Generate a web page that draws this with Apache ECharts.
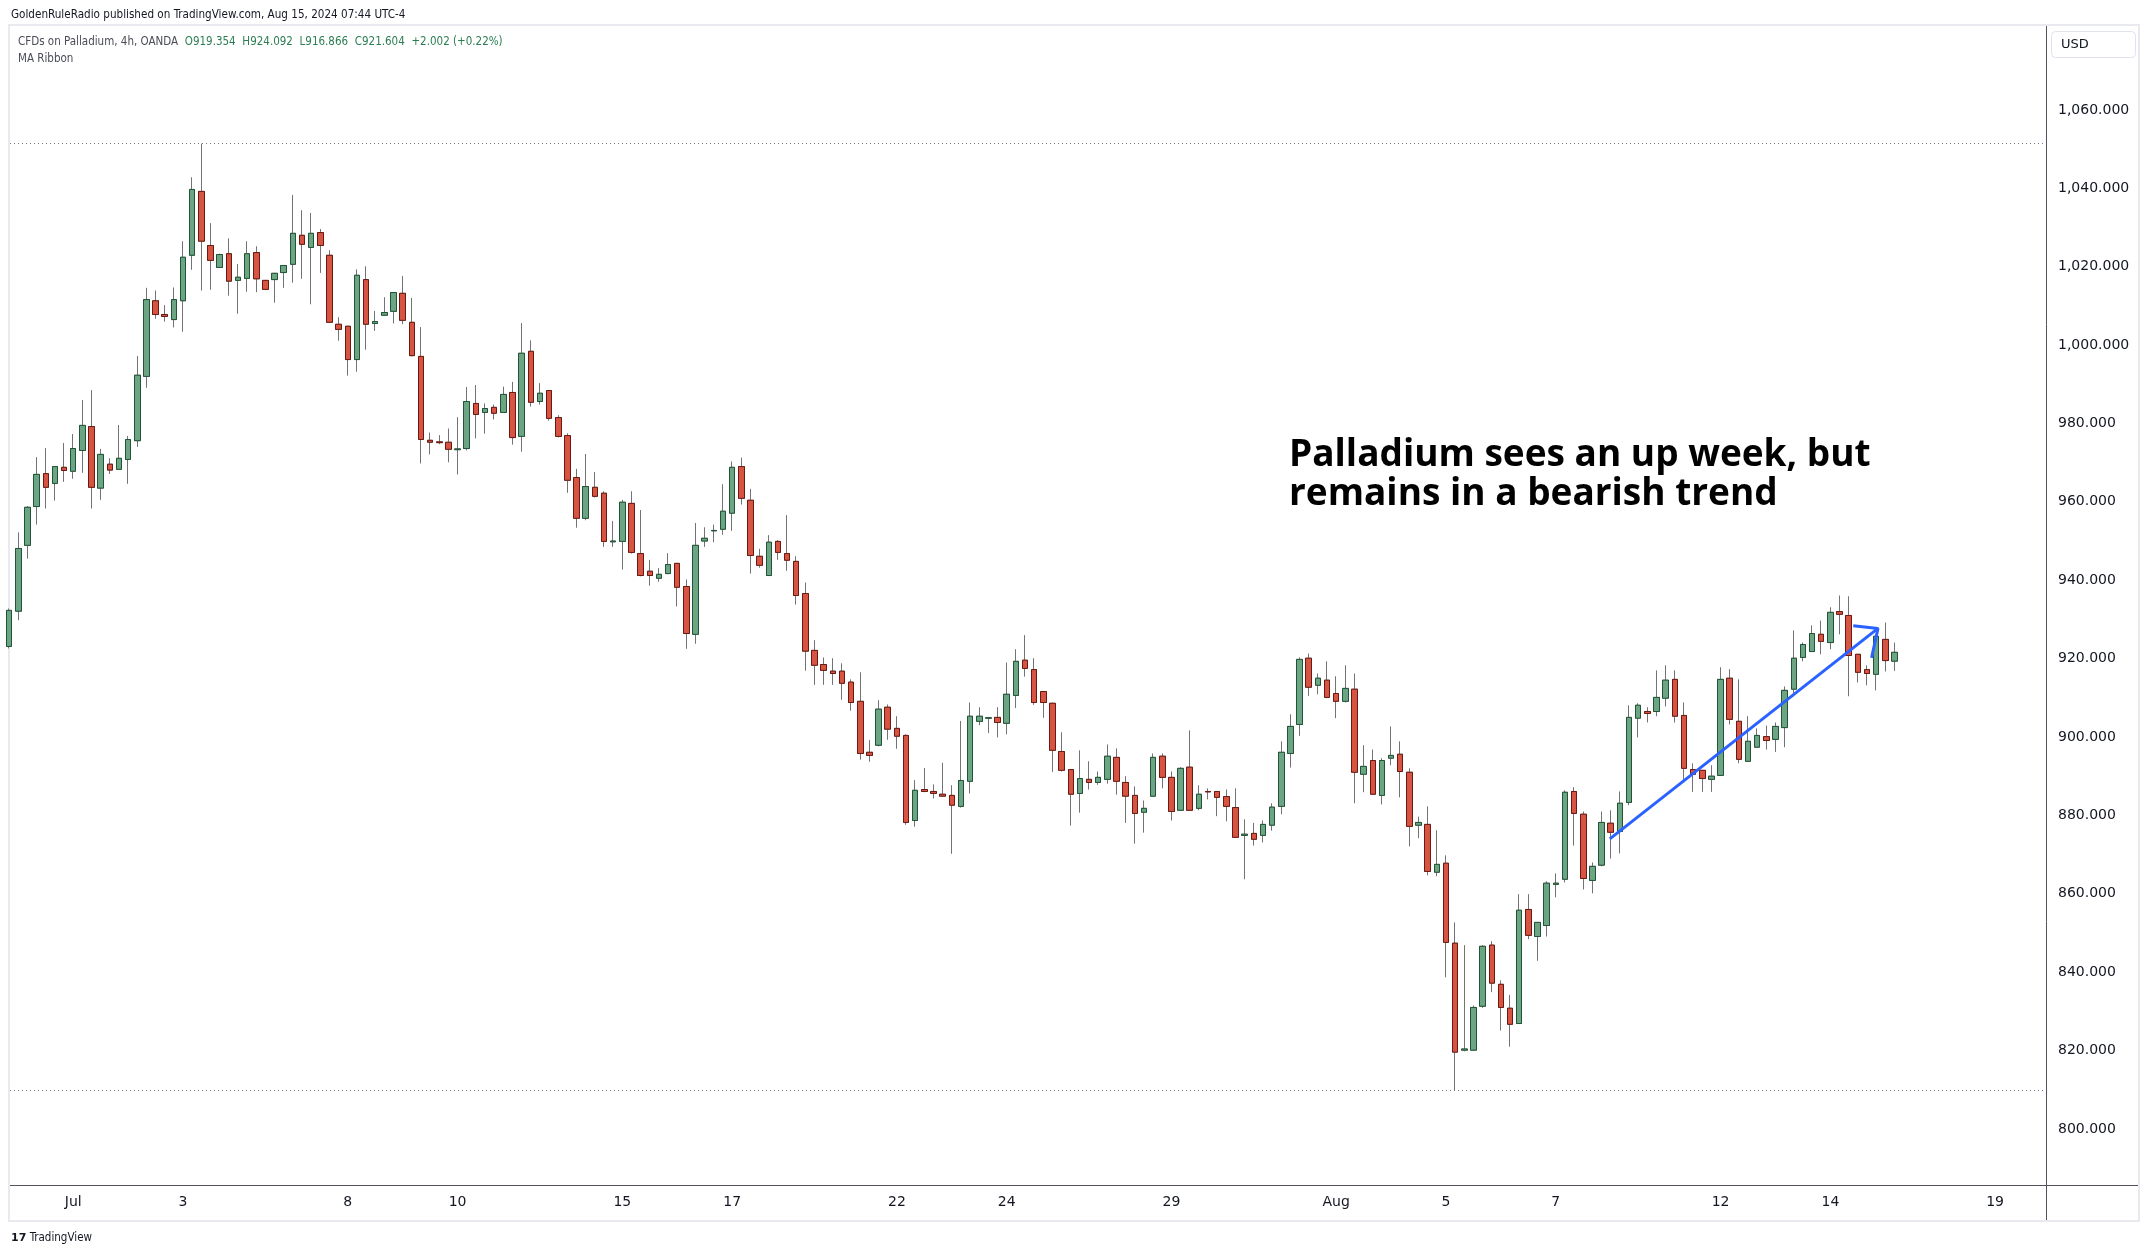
<!DOCTYPE html>
<html><head><meta charset="utf-8">
<script src="https://cdn.jsdelivr.net/npm/echarts@6/dist/echarts.min.js"></script>
<style>html,body{margin:0;padding:0;background:#fff}#c{width:2149px;height:1256px}</style>
</head><body><div id="c"></div>
<script>
// 4h candles, CFDs on Palladium (OANDA), from Jun 27 (last bar) to Aug 15 2024
const openP = [923.1,932.1,948.9,958.8,967.2,964.7,968.8,967.8,973.1,979.2,
963.5,969.6,968.3,970.8,975.6,992.0,1011.3,1007.8,1006.5,1011.3,
1022.9,1039.2,1025.4,1019.8,1023.3,1016.5,1017.0,1023.6,1016.5,1016.7,
1018.5,1020.6,1028.0,1024.9,1028.7,1022.9,1005.3,1004.8,996.3,1016.7,
1005.5,1007.6,1008.6,1013.2,1005.8,997.1,975.7,975.3,975.2,973.3,
973.6,985.1,982.8,984.1,982.8,987.9,976.7,998.4,985.6,988.4,
981.5,976.9,966.2,955.8,963.7,962.2,949.8,949.9,959.6,946.8,
942.3,940.5,941.7,944.3,938.4,926.2,950.0,952.6,953.0,957.1,
969.0,960.4,946.1,941.2,949.9,946.8,944.8,936.6,922.1,918.5,
916.8,916.8,914.0,909.1,896.1,897.9,907.6,902.2,900.4,878.7,
886.6,886.1,885.4,885.1,882.3,888.7,904.0,904.8,905.0,903.5,
910.6,919.6,917.2,911.6,908.6,896.3,891.7,885.6,889.2,888.4,
889.2,894.8,888.4,885.1,880.8,884.9,895.1,889.7,881.3,892.3,
881.8,886.1,886.1,884.8,882.0,874.9,875.4,874.9,877.5,882.3,
895.8,903.2,920.1,913.2,914.5,911.1,909.1,912.2,890.5,894.0,
885.1,894.6,895.6,891.0,877.5,877.7,865.5,867.8,847.4,820.1,
820.1,831.3,846.9,836.9,830.8,826.9,856.0,849.1,851.9,862.4,
863.7,886.1,880.3,863.4,867.3,878.0,875.9,883.3,904.8,906.5,
906.5,909.9,914.7,905.5,891.7,891.5,889.2,890.2,915.0,904.0,
893.8,897.4,900.1,899.4,902.4,912.2,920.3,921.8,926.2,924.1,
932.0,931.0,921.1,917.2,916.0,924.9,919.354];
const highP = [932.8,952.2,958.9,971.4,973.7,969.1,975.0,977.3,986.0,988.5,
973.5,971.1,979.6,976.8,997.2,1014.6,1013.9,1010.2,1014.7,1026.5,
1042.8,1051.4,1031.1,1023.3,1027.2,1020.7,1026.5,1025.2,1016.6,1018.4,
1020.4,1038.3,1034.4,1033.7,1029.6,1024.2,1007.1,1004.9,1019.3,1020.1,
1008.7,1012.2,1013.4,1017.6,1012.0,1004.6,977.7,977.0,978.7,981.6,
989.3,989.8,985.1,984.8,989.4,990.6,1005.6,1001.2,990.3,988.4,
982.1,977.5,968.4,972.2,967.6,962.7,955.1,960.5,962.7,957.9,
945.2,943.1,946.9,944.3,940.2,954.6,953.5,954.2,964.5,970.3,
971.3,963.3,948.0,951.5,950.3,956.6,946.1,939.4,924.7,920.3,
920.1,918.8,914.7,916.5,899.2,909.4,908.3,905.3,900.7,889.0,
892.1,887.9,893.4,887.7,904.1,908.8,907.6,905.1,907.6,919.0,
922.4,926.0,920.1,911.6,908.8,901.2,891.7,896.6,893.8,891.2,
898.1,897.1,890.0,887.4,883.8,895.8,895.8,891.2,892.3,901.7,
887.7,886.9,886.1,886.6,886.9,879.0,878.1,878.7,883.1,898.9,
905.8,920.3,921.3,916.2,919.3,915.5,918.3,916.2,897.9,896.8,
894.6,902.7,898.9,892.0,879.7,882.3,876.2,869.8,852.7,846.9,
831.5,846.9,847.9,837.9,834.2,859.9,859.9,852.7,863.2,865.2,
886.4,887.2,881.0,868.0,881.0,881.3,886.1,908.1,908.6,907.6,
917.0,918.3,917.0,908.8,893.3,891.5,892.8,917.8,917.3,914.7,
905.3,902.2,902.9,903.7,912.9,927.2,924.1,928.5,929.7,933.1,
936.1,935.9,921.1,918.3,925.7,929.2,924.092];
const lowP = [922.6,929.8,945.5,954.2,958.3,960.3,965.1,965.9,967.4,958.3,
960.5,967.1,968.3,964.6,974.0,989.1,1006.7,1006.0,1004.5,1003.4,
1019.2,1013.9,1014.1,1019.8,1012.6,1008.0,1013.6,1013.5,1014.0,1010.8,
1014.6,1015.9,1016.9,1010.4,1018.4,1005.6,1001.1,992.2,993.2,998.8,
1003.6,1007.5,1005.5,1005.3,997.1,969.8,972.1,974.7,970.1,967.0,
973.1,976.2,977.4,981.0,982.8,974.6,972.8,984.3,984.8,980.7,
976.4,962.3,953.4,955.3,961.1,948.5,948.5,942.7,946.8,941.0,
938.6,939.6,941.5,933.3,922.5,923.8,948.5,949.7,951.6,952.6,
959.3,941.7,943.2,941.2,945.2,942.4,933.8,916.9,913.3,913.3,
913.3,909.5,906.7,894.2,893.7,897.6,899.3,897.0,877.6,877.1,
885.9,884.3,884.9,870.2,882.0,885.6,903.0,901.0,899.9,900.7,
907.4,915.4,908.2,904.9,891.1,891.2,877.4,880.7,886.6,887.8,
888.1,885.3,878.1,872.8,875.6,884.9,886.9,878.7,881.3,881.3,
881.3,884.1,879.8,878.5,874.4,863.7,872.3,873.1,876.1,880.3,
892.2,900.3,910.5,910.9,909.9,904.8,908.8,883.1,885.9,885.4,
882.8,892.8,884.6,872.1,874.2,864.7,864.5,838.7,809.9,819.8,
820.1,830.9,834.9,825.1,821.0,826.9,848.4,842.9,849.1,859.1,
862.9,872.3,861.1,860.1,867.0,869.0,870.3,882.6,899.9,903.7,
905.3,907.8,903.7,888.9,886.0,886.0,886.0,890.2,903.2,893.3,
893.8,897.4,896.8,896.2,897.4,910.4,919.3,921.8,921.1,922.4,
926.2,910.4,913.9,913.2,911.9,916.7,916.866];
const closeP = [932.3,948.1,958.6,967.0,963.7,969.0,968.0,973.6,979.5,963.7,
972.1,968.1,971.1,975.9,992.3,1011.6,1007.8,1007.3,1011.6,1022.4,
1039.7,1026.5,1021.6,1023.1,1016.3,1017.3,1023.3,1016.9,1014.2,1018.3,
1020.3,1028.5,1025.7,1028.5,1025.4,1005.8,1004.0,996.3,1017.8,1005.3,
1006.0,1008.3,1013.4,1006.3,997.3,975.9,975.2,975.1,973.4,973.5,
985.6,982.3,983.8,982.6,987.4,976.4,997.9,985.4,987.7,981.3,
976.7,965.5,955.8,963.9,961.4,949.9,950.0,959.9,947.1,941.2,
941.2,941.5,944.0,938.2,926.4,948.9,950.7,952.7,957.6,968.8,
960.9,946.3,943.8,949.7,947.1,945.1,936.1,921.9,918.3,917.0,
916.2,913.7,908.8,895.8,895.3,907.1,902.0,900.2,878.2,886.4,
886.1,885.6,884.9,882.6,888.9,905.3,905.3,904.9,903.7,910.9,
919.3,917.5,908.8,908.8,896.6,891.5,885.4,889.4,888.4,889.7,
895.1,888.7,884.9,880.5,881.8,894.8,889.7,881.0,892.0,881.3,
885.4,886.0,884.6,882.3,874.4,875.2,873.9,877.7,882.1,896.1,
902.7,919.8,912.7,915.0,910.1,909.1,912.4,891.0,892.5,885.4,
894.0,895.3,891.2,877.2,878.2,865.7,867.5,847.6,819.6,820.4,
831.0,846.6,837.2,831.0,826.7,855.8,849.4,852.7,862.7,862.7,
885.9,880.5,863.9,867.0,878.2,875.7,883.1,905.0,908.1,906.0,
910.1,914.5,905.3,892.0,890.5,889.4,890.0,914.7,904.5,894.3,
898.9,900.4,899.1,902.7,911.9,920.1,923.6,926.4,924.4,931.8,
931.3,920.8,916.5,916.2,925.7,919.5,921.604];

// axis ticks
const priceTicks = [800,820,840,860,880,900,920,940,960,980,1000,1020,1040,1060];
const timeLabels = ['Jul','3','8','10','15','17','22','24','29','Aug','5','7','12','14','19'];
const timeLabelBar = [7,19,37,49,67,79,97,109,127,145,157,169,187,199,217]; // bar index of each labelled day's first 4h bar

// drawn trend arrow (bar index, price)
const arrowLine = [[174.9, 874.0],[204.2, 927.7]];
const arrowHead = [[201.5, 928.4],[204.2, 927.7],[203.5, 920.2]];

const candles = openP.map((o,i)=>[i,o,closeP[i],lowP[i],highP[i]]);
const bodies = openP.map((o,i)=>[i,o,closeP[i],Math.min(o,closeP[i]),Math.max(o,closeP[i])]);
const hiMax = Math.max(...highP), loMin = Math.min(...lowP);

const AX = "'DejaVu Sans', sans-serif";
const SM = "'DejaVu Sans Condensed', 'DejaVu Sans', sans-serif";
const chart = echarts.init(document.getElementById('c'), null, {renderer:'canvas'});
chart.setOption({
  animation:false,
  backgroundColor:'#ffffff',
  grid:{left:10, right:103, top:26, bottom:71},
  xAxis:{type:'value', min:0.093, max:222.56, splitLine:{show:false},
    axisLine:{show:false}, axisTick:{show:false},
    axisLabel:{customValues:timeLabelBar, formatter:v=>timeLabels[timeLabelBar.indexOf(v)] ?? '',
      color:'#131722', fontFamily:AX, fontSize:14, margin:10}},
  yAxis:{type:'value', position:'right', min:785.7, max:1081.4, scale:true,
    splitLine:{show:false}, axisLine:{show:false}, axisTick:{show:false},
    axisLabel:{customValues:priceTicks, color:'#131722', fontFamily:AX, fontSize:14, margin:12,
      formatter:v=>v.toLocaleString('en-US',{minimumFractionDigits:3, maximumFractionDigits:3})}},
  series:[
    {type:'candlestick', data:candles, barWidth:6, z:2,
     itemStyle:{color:'rgba(0,0,0,0)', color0:'rgba(0,0,0,0)', borderColor:'#737375', borderColor0:'#737375', borderColorDoji:'#737375', borderWidth:1},
     markLine:{silent:true, symbol:'none', label:{show:false},
       lineStyle:{type:[1,3], color:'#787b86', width:1},
       data:[{yAxis:hiMax},{yAxis:loMin}]}},
    {type:'candlestick', data:bodies, barWidth:6, z:3,
     itemStyle:{color:'#6ba583', color0:'#d75442', borderColor:'#225437', borderColor0:'#6b1a11', borderWidth:1}},
    {type:'line', data:arrowLine, symbol:'none', z:5, lineStyle:{color:'#2962ff', width:3}},
    {type:'line', data:arrowHead, symbol:'none', z:5, lineStyle:{color:'#2962ff', width:3}}
  ],
  graphic:[
    {type:'rect', shape:{x:9, y:25, width:2130, height:1196}, style:{fill:'none', stroke:'#e8eaef', lineWidth:2}, z:1},
    {type:'line', shape:{x1:2046.5, y1:26, x2:2046.5, y2:1220}, style:{stroke:'#50535e', lineWidth:1}, z:10},
    {type:'line', shape:{x1:10, y1:1185.5, x2:2138, y2:1185.5}, style:{stroke:'#50535e', lineWidth:1}, z:10},
    {type:'text', x:11, y:15, style:{text:'GoldenRuleRadio published on TradingView.com, Aug 15, 2024 07:44 UTC-4',
      font:"11.6px " + SM, fill:'#131722', verticalAlign:'middle'}, z:10},
    {type:'text', x:18, y:42, style:{
      text:'{a|CFDs on Palladium, 4h, OANDA}  {v|O919.354}  {v|H924.092}  {v|L916.866}  {v|C921.604}  {v|+2.002 (+0.22%)}',
      verticalAlign:'middle',
      rich:{a:{fontFamily:SM, fontSize:11.5, fill:'#4a4d57'},
            v:{fontFamily:SM, fontSize:11.5, fill:'#2b7d52'}}}, z:10},
    {type:'text', x:18, y:59, style:{text:'MA Ribbon', font:"11.5px " + SM, fill:'#4a4d57', verticalAlign:'middle'}, z:10},
    {type:'rect', shape:{x:2051.5, y:31.5, width:84, height:26, r:4}, style:{fill:'#fff', stroke:'#e0e3eb', lineWidth:1}, z:10},
    {type:'text', x:2061, y:44.5, style:{text:'USD', font:"13px 'DejaVu Sans', sans-serif", fill:'#131722', verticalAlign:'middle'}, z:11},
    {type:'text', x:1289, y:455, style:{text:'Palladium sees an up week, but', font:"700 37px 'Open Sans', sans-serif", fill:'#000', verticalAlign:'middle'}, z:10},
    {type:'text', x:1289, y:494, style:{text:'remains in a bearish trend', font:"700 37px 'Open Sans', sans-serif", fill:'#000', verticalAlign:'middle'}, z:10},
    {type:'text', x:11, y:1238, style:{text:'{l|17} {t|TradingView}', verticalAlign:'middle',
      rich:{l:{fontFamily:AX, fontWeight:'bold', fontSize:11, fill:'#131722'},
            t:{fontFamily:SM, fontSize:11.5, fill:'#131722'}}}, z:10}
  ]
});
</script></body></html>
